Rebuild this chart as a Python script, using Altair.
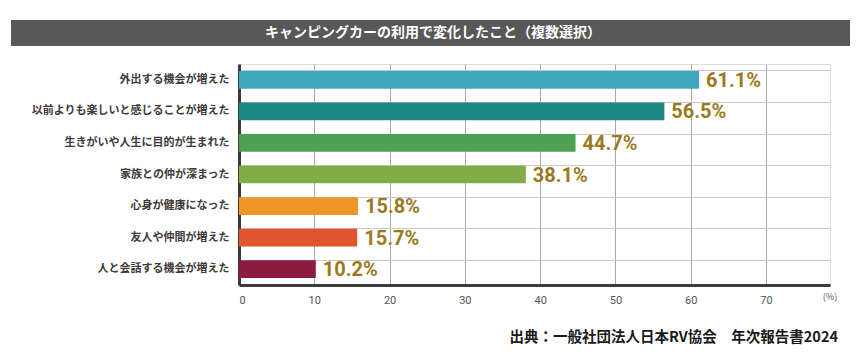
import altair as alt
import pandas as pd

categories = [
    "外出する機会が増えた",
    "以前よりも楽しいと感じることが増えた",
    "生きがいや人生に目的が生まれた",
    "家族との仲が深まった",
    "心身が健康になった",
    "友人や仲間が増えた",
    "人と会話する機会が増えた",
]
values = [61.1, 56.5, 44.7, 38.1, 15.8, 15.7, 10.2]
colors = ["#3ea7bc", "#1b8783", "#4fa152", "#80ad48", "#eb9626", "#de5530", "#8b1c40"]
x_ticks = [0, 10, 20, 30, 40, 50, 60, 70]
title_text = "キャンピングカーの利用で変化したこと（複数選択）"
source_text = "出典：一般社団法人日本RV協会　年次報告書2024"
unit_text = "(%)"

df = pd.DataFrame({
    "cat": categories,
    "val": values,
    "label": [f"{v:.1f}%" for v in values],
})

JP = "Noto Sans CJK JP"
W, H = 591, 221

y_enc = alt.Y("cat:N", sort=categories, title=None,
              scale=alt.Scale(paddingInner=0.44, paddingOuter=0.22),
              axis=alt.Axis(labelFont=JP, labelFontSize=11, labelFontWeight="bold",
                            labelColor="#3e3a39", labelPadding=10, labelLimit=0, ticks=False,
                            domain=True, domainColor="#3e3a39", domainWidth=3,
                            grid=True, gridColor="#c8c8c8", gridWidth=1, bandPosition=0))
x_enc = alt.X("val:Q", title=None,
              scale=alt.Scale(domain=[0, 78.5], nice=False, zero=True),
              axis=alt.Axis(values=x_ticks, labelFont="Roboto", labelFontSize=11,
                            labelColor="#555555", labelPadding=9, ticks=False,
                            domain=True, domainColor="#3e3a39", domainWidth=3,
                            grid=True, gridColor="#a8a8a8", gridWidth=1))

bars = alt.Chart(df).mark_bar(clip=False).encode(
    x=x_enc, y=y_enc,
    color=alt.Color("cat:N", sort=categories,
                    scale=alt.Scale(domain=categories, range=colors), legend=None),
)

labels = alt.Chart(df).mark_text(
    align="left", baseline="middle", dx=7, dy=1, font="Roboto", fontSize=20,
    fontWeight="bold", color="#9b7a1e",
).encode(x=alt.X("val:Q"), y=alt.Y("cat:N", sort=categories), text="label:N")

deco = pd.DataFrame({"k": [0]})
title_bar = alt.Chart(deco).mark_rect(color="#595757", clip=False).encode(
    x=alt.value(-228), x2=alt.value(616), y=alt.value(-44), y2=alt.value(-18))
title_mark = alt.Chart(deco).mark_text(
    text=title_text, font=JP, fontSize=14, fontWeight="bold", color="#ffffff",
    align="center", baseline="middle").encode(x=alt.value(194), y=alt.value(-31))
unit_mark = alt.Chart(deco).mark_text(
    text=unit_text, font=JP, fontSize=9, color="#555555",
    align="center", baseline="middle").encode(x=alt.value(591), y=alt.value(12 + H))
source_mark = alt.Chart(deco).mark_text(
    text=source_text, font=JP, fontSize=14.5, fontWeight="bold", color="#1a1a1a",
    align="right", baseline="middle").encode(x=alt.value(599), y=alt.value(H + 53))

chart = alt.layer(bars, labels, title_bar, title_mark, unit_mark, source_mark).properties(
    width=W, height=H,
    autosize=alt.AutoSizeParams(type="none"),
    padding={"left": 231, "top": 56, "right": 20, "bottom": 70},
).configure_view(stroke="#b0b0b0", strokeWidth=1).configure(background="#ffffff")

chart.save("out.html", embed_options={"renderer": "svg", "actions": False})
